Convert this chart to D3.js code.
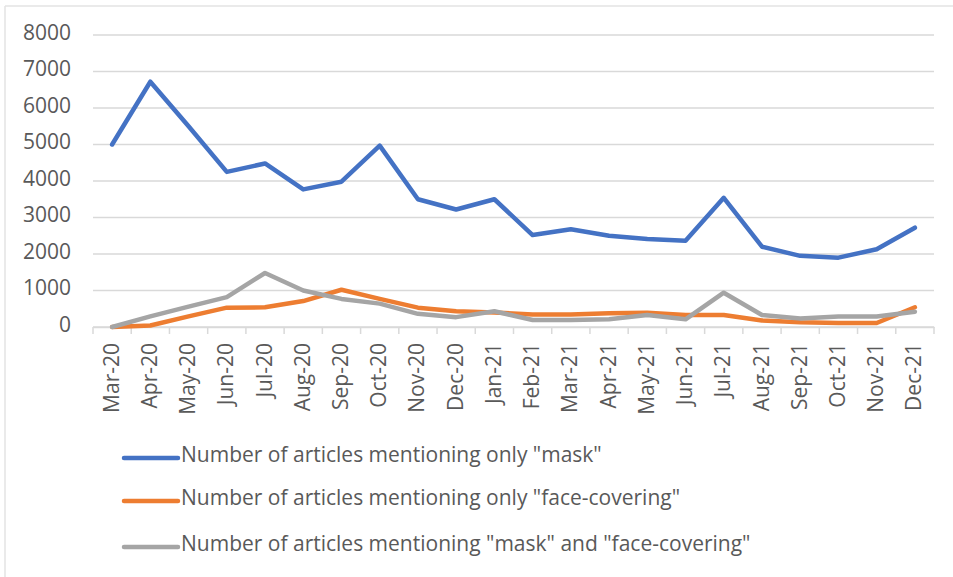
<!DOCTYPE html>
<html lang="en">
<head>
    <meta charset="UTF-8">
    <title>Mask vs face-covering articles</title>
    <script src="https://cdnjs.cloudflare.com/ajax/libs/d3/7.8.5/d3.min.js"></script>
    <style>
        body {
            margin: 0;
            background-color: #ffffff;
            font-family: "Open Sans", sans-serif;
        }
        svg text {
            fill: #595959;
        }
    </style>
</head>
<body>
    <svg id="chart" width="953" height="577"></svg>

    <script>
        // Data
        const months = ["Mar-20", "Apr-20", "May-20", "Jun-20", "Jul-20", "Aug-20", "Sep-20", "Oct-20",
                        "Nov-20", "Dec-20", "Jan-21", "Feb-21", "Mar-21", "Apr-21", "May-21", "Jun-21",
                        "Jul-21", "Aug-21", "Sep-21", "Oct-21", "Nov-21", "Dec-21"];
        const onlyMask = [5000, 6720, 5500, 4250, 4480, 3770, 3980, 4970, 3500, 3220, 3500,
                          2520, 2680, 2500, 2410, 2360, 3540, 2200, 1950, 1900, 2130, 2720];
        const onlyFaceCovering = [0, 40, 290, 530, 540, 710, 1020, 770, 530, 430, 400,
                                  340, 340, 380, 390, 330, 330, 180, 130, 110, 110, 540];
        const maskAndFaceCovering = [0, 290, 560, 820, 1480, 1000, 770, 640, 360, 270, 430,
                                     190, 190, 210, 330, 210, 940, 330, 230, 290, 290, 420];
        const yTicks = [0, 1000, 2000, 3000, 4000, 5000, 6000, 7000, 8000];
        const seriesNames = [
            'Number of articles mentioning only "mask"',
            'Number of articles mentioning only "face-covering"',
            'Number of articles mentioning "mask" and "face-covering"'
        ];
        const seriesColors = ["#4472C4", "#ED7D31", "#A5A5A5"];

        const series = [onlyMask, onlyFaceCovering, maskAndFaceCovering];

        const svg = d3.select("#chart");

        // faint frame on the top and left edges
        svg.append("line").attr("x1", 5).attr("x2", 953).attr("y1", 6).attr("y2", 6)
            .attr("stroke", "#e3e3e3").attr("stroke-width", 1.5);
        svg.append("line").attr("x1", 5).attr("x2", 5).attr("y1", 6).attr("y2", 577)
            .attr("stroke", "#e3e3e3").attr("stroke-width", 1.5);

        const plot = {left: 93, right: 934, top: 35, bottom: 327};

        const x = d3.scaleBand()
            .domain(months)
            .range([plot.left, plot.right]);

        const y = d3.scaleLinear()
            .domain([0, 8000])
            .range([plot.bottom, plot.top]);

        // gridlines
        svg.append("g")
            .selectAll("line")
            .data(yTicks)
            .enter().append("line")
            .attr("x1", plot.left)
            .attr("x2", plot.right)
            .attr("y1", d => y(d))
            .attr("y2", d => y(d))
            .attr("stroke", "#d9d9d9")
            .attr("stroke-width", 1.5);

        // y labels
        svg.append("g")
            .selectAll("text")
            .data(yTicks)
            .enter().append("text")
            .attr("x", 71)
            .attr("y", d => y(d) + 4.5)
            .attr("text-anchor", "end")
            .style("font-size", "21px")
            .text(d => d);

        // x axis with tick marks between categories
        const xAxis = d3.axisBottom(x).tickSize(0).tickFormat("");
        const axisG = svg.append("g")
            .attr("transform", `translate(0,${plot.bottom})`)
            .call(xAxis);
        axisG.select(".domain").attr("stroke", "#d9d9d9").attr("stroke-width", 1.5);

        const boundaries = months.map(m => x(m)).concat([plot.right]);
        svg.append("g")
            .selectAll("line")
            .data(boundaries)
            .enter().append("line")
            .attr("x1", d => d)
            .attr("x2", d => d)
            .attr("y1", plot.bottom)
            .attr("y2", plot.bottom + 7)
            .attr("stroke", "#d9d9d9")
            .attr("stroke-width", 1.5);

        // rotated month labels
        svg.append("g")
            .selectAll("text")
            .data(months)
            .enter().append("text")
            .attr("transform", d => `translate(${x(d) + x.bandwidth() / 2 - 1},${plot.bottom + 16}) rotate(-90)`)
            .attr("dy", "0.36em")
            .attr("text-anchor", "end")
            .style("font-size", "21px")
            .text(d => d);

        // lines, gray drawn last so it sits on top
        const line = d3.line()
            .x((d, i) => x(months[i]) + x.bandwidth() / 2)
            .y(d => y(d));

        series.forEach((values, k) => {
            svg.append("path")
                .datum(values)
                .attr("fill", "none")
                .attr("stroke", seriesColors[k])
                .attr("stroke-width", 4.5)
                .attr("stroke-linejoin", "round")
                .attr("stroke-linecap", "round")
                .attr("d", line);
        });

        // legend
        const legendY = [458, 501, 547];
        const legend = svg.append("g");
        seriesNames.forEach((name, k) => {
            legend.append("line")
                .attr("x1", 124)
                .attr("x2", 178)
                .attr("y1", legendY[k])
                .attr("y2", legendY[k])
                .attr("stroke", seriesColors[k])
                .attr("stroke-width", 4.5)
                .attr("stroke-linecap", "round");
            legend.append("text")
                .attr("x", 181)
                .attr("y", legendY[k] + 4)
                .style("font-size", "21px")
                .text(name);
        });
    </script>
</body>
</html>
